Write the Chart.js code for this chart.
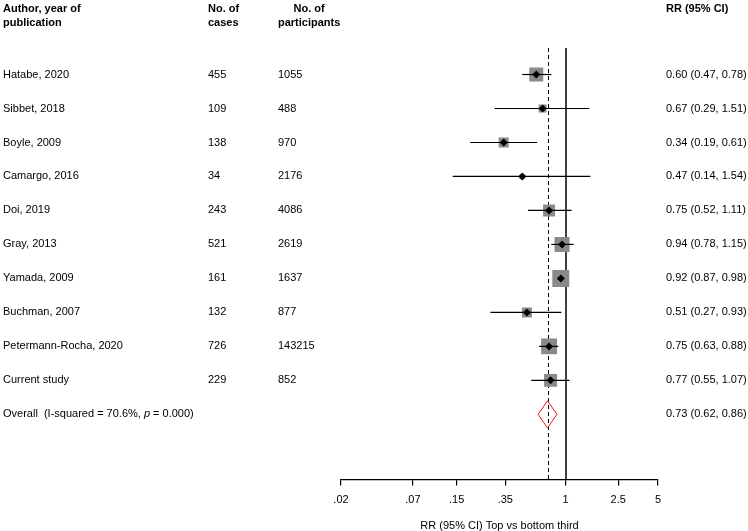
<!DOCTYPE html>
<html>
<head>
<meta charset="utf-8">
<script src="https://cdn.jsdelivr.net/npm/chart.js@4/dist/chart.umd.min.js"></script>
<style>
  html, body { margin: 0; padding: 0; background: #fff; }
  #wrap { width: 748px; height: 531px; position: relative; }
</style>
</head>
<body>
<div id="wrap"><canvas id="forest"></canvas></div>
<script>
const studies = ['Hatabe, 2020', 'Sibbet, 2018', 'Boyle, 2009', 'Camargo, 2016', 'Doi, 2019',
    'Gray, 2013', 'Yamada, 2009', 'Buchman, 2007', 'Petermann-Rocha, 2020', 'Current study'];
const cases = [455, 109, 138, 34, 243, 521, 161, 132, 726, 229];
const participants = [1055, 488, 970, 2176, 4086, 2619, 1637, 877, 143215, 852];
const rr = [0.60, 0.67, 0.34, 0.47, 0.75, 0.94, 0.92, 0.51, 0.75, 0.77];
const lower = [0.47, 0.29, 0.19, 0.14, 0.52, 0.78, 0.87, 0.27, 0.63, 0.55];
const upper = [0.78, 1.51, 0.61, 1.54, 1.11, 1.15, 0.98, 0.93, 0.88, 1.07];
// approximate study weights (%)
const weights = [12.5, 4.0, 6.4, 1.6, 9.2, 14.4, 18.4, 6.4, 16.3, 10.8];

const overall = { rr: 0.73, lower: 0.62, upper: 0.86, i2: '70.6%', p: '0.000' };

const tickValues = [0.02, 0.07, 0.15, 0.35, 1, 2.5, 5];
const tickLabels = ['.02', '.07', '.15', '.35', '1', '2.5', '5'];

const fmt = v => v.toFixed(2);
const FONT = '"Liberation Sans", Arial, sans-serif';
const COL_CASES = 208;
const COL_PART = 278;
const COL_RR = 666;

Chart.defaults.font.family = FONT;
Chart.defaults.font.size = 11;
Chart.defaults.color = '#000';

// reference lines, CI lines, summary diamond and the text columns
const forestPlugin = {
    id: 'forest',
    beforeDatasetsDraw(chart) {
        const { ctx, chartArea, scales: { x } } = chart;
        ctx.save();
        ctx.strokeStyle = '#000';
        ctx.lineWidth = 1;
        // dashed line at overall estimate
        const xd = Math.round(x.getPixelForValue(overall.rr)) + 0.5;
        ctx.setLineDash([4, 3]);
        ctx.beginPath();
        ctx.moveTo(xd, chartArea.top);
        ctx.lineTo(xd, chartArea.bottom);
        ctx.stroke();
        ctx.setLineDash([]);
        // null line at 1
        const x1 = Math.round(x.getPixelForValue(1));
        ctx.lineWidth = 1.5;
        ctx.beginPath();
        ctx.moveTo(x1, chartArea.top);
        ctx.lineTo(x1, chartArea.bottom);
        ctx.stroke();
        ctx.restore();
    },
    afterDatasetDraw(chart, args) {
        if (args.index !== 0) return;
        const { ctx, scales: { x, y } } = chart;
        ctx.save();
        ctx.strokeStyle = '#000';
        ctx.lineWidth = 1.2;
        studies.forEach((s, i) => {
            const yy = y.getPixelForValue(i);
            ctx.beginPath();
            ctx.moveTo(x.getPixelForValue(lower[i]), yy);
            ctx.lineTo(x.getPixelForValue(upper[i]), yy);
            ctx.stroke();
        });
        ctx.restore();
    },
    afterDatasetsDraw(chart) {
        const { ctx, scales: { x, y } } = chart;
        ctx.save();
        // overall diamond
        const yo = y.getPixelForValue(studies.length);
        const half = y.getPixelForValue(studies.length + 0.4) - yo;
        ctx.strokeStyle = '#e8141b';
        ctx.lineWidth = 1;
        ctx.beginPath();
        ctx.moveTo(x.getPixelForValue(overall.lower), yo);
        ctx.lineTo(x.getPixelForValue(overall.rr), yo - half);
        ctx.lineTo(x.getPixelForValue(overall.upper), yo);
        ctx.lineTo(x.getPixelForValue(overall.rr), yo + half);
        ctx.closePath();
        ctx.stroke();

        // text columns
        ctx.fillStyle = '#000';
        ctx.textBaseline = 'middle';
        ctx.textAlign = 'left';
        ctx.font = 'bold 11px ' + FONT;
        ctx.fillText('Author, year of', 3, 9);
        ctx.fillText('publication', 3, 23);
        ctx.fillText('No. of', COL_CASES, 9);
        ctx.fillText('cases', COL_CASES, 23);
        ctx.fillText('participants', COL_PART, 23);
        const pw = ctx.measureText('participants').width;
        ctx.textAlign = 'center';
        ctx.fillText('No. of', COL_PART + pw / 2, 9);
        ctx.textAlign = 'left';
        ctx.fillText('RR (95% CI)', COL_RR, 9);

        ctx.font = '11px ' + FONT;
        studies.forEach((s, i) => {
            const yy = y.getPixelForValue(i);
            ctx.fillText(s, 3, yy);
            ctx.fillText(String(cases[i]), COL_CASES, yy);
            ctx.fillText(String(participants[i]), COL_PART, yy);
            ctx.fillText(fmt(rr[i]) + ' (' + fmt(lower[i]) + ', ' + fmt(upper[i]) + ')', COL_RR, yy);
        });
        let tx = 3;
        const parts = [
            ['Overall  (I-squared = ' + overall.i2 + ', ', '11px '],
            ['p', 'italic 11px '],
            [' = ' + overall.p + ')', '11px ']
        ];
        parts.forEach(([t, f]) => {
            ctx.font = f + FONT;
            ctx.fillText(t, tx, yo);
            tx += ctx.measureText(t).width;
        });
        ctx.font = '11px ' + FONT;
        ctx.fillText(fmt(overall.rr) + ' (' + fmt(overall.lower) + ', ' + fmt(overall.upper) + ')', COL_RR, yo);
        ctx.restore();
    }
};

const boxData = studies.map((s, i) => ({ x: rr[i], y: i }));

new Chart(document.getElementById('forest'), {
    type: 'scatter',
    data: {
        datasets: [
            {
                label: 'weight',
                data: boxData,
                order: 2,
                pointStyle: 'rect',
                backgroundColor: '#8a8a8a',
                borderWidth: 0,
                // side of the square grows with sqrt(weight); rect side = radius * sqrt(2)
                pointRadius: ctx => 3.95 * Math.sqrt(weights[ctx.dataIndex]) / Math.SQRT2,
                pointHoverRadius: ctx => 3.95 * Math.sqrt(weights[ctx.dataIndex]) / Math.SQRT2,
            },
            {
                label: 'RR',
                data: boxData,
                order: 1,
                pointStyle: 'rectRot',
                backgroundColor: '#000',
                borderColor: '#000',
                borderWidth: 0,
                pointRadius: 4,
                pointHoverRadius: 4,
            }
        ]
    },
    options: {
        responsive: true,
        maintainAspectRatio: false,
        animation: false,
        events: [],
        layout: { padding: { left: 341, right: 90, top: 48, bottom: -2 } },
        plugins: { legend: { display: false }, tooltip: { enabled: false } },
        scales: {
            x: {
                type: 'logarithmic',
                min: 0.02,
                max: 5,
                afterBuildTicks: scale => {
                    scale.ticks = tickValues.map(v => ({ value: v }));
                },
                grid: {
                    drawOnChartArea: false,
                    drawTicks: true,
                    tickLength: 6,
                    color: '#000',
                    lineWidth: 1.2,
                },
                border: { display: true, color: '#000', width: 1.2 },
                ticks: {
                    autoSkip: false,
                    maxRotation: 0,
                    padding: 8,
                    color: '#000',
                    font: { size: 11 },
                    callback: (value, index) => tickLabels[index],
                },
                title: {
                    display: true,
                    text: 'RR (95% CI) Top vs bottom third',
                    color: '#000',
                    font: { size: 11 },
                    padding: { top: 5, bottom: 0 },
                }
            },
            y: {
                type: 'linear',
                display: false,
                reverse: true,
                min: -0.78,
                max: 11.92,
            }
        }
    },
    plugins: [forestPlugin]
});
</script>
</body>
</html>
